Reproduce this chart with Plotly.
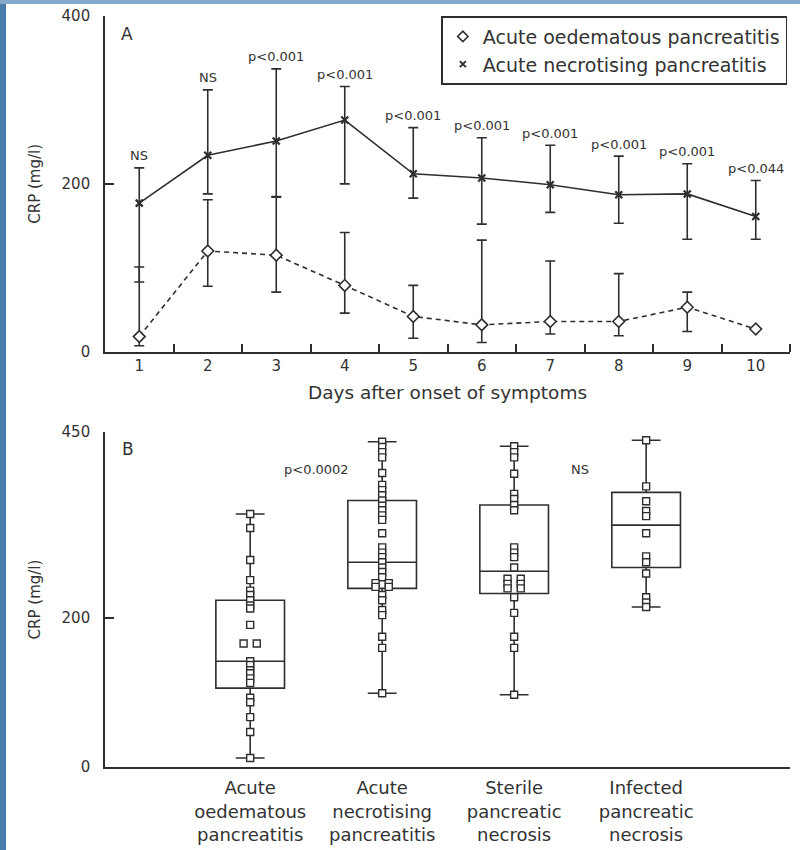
import plotly.graph_objects as go

# ---------------- Panel A data ----------------
days = [1, 2, 3, 4, 5, 6, 7, 8, 9, 10]
necro_mean = [177, 234, 251, 276, 212, 207, 199, 187, 188, 161]
necro_upper = [219, 312, 337, 316, 267, 255, 246, 233, 224, 204]
necro_lower = [83, 188, 185, 200, 183, 152, 166, 153, 134, 134]
oedem_mean = [18, 120, 115, 79, 42, 32, 36, 36, 53, 27]
oedem_upper = [101, 181, 184, 142, 79, 133, 108, 93, 71, 27]
oedem_lower = [7, 78, 71, 46, 16, 11, 21, 19, 24, 27]
p_labels = ["NS", "NS", "p<0.001", "p<0.001", "p<0.001", "p<0.001",
            "p<0.001", "p<0.001", "p<0.001", "p<0.044"]
series_names = ["Acute oedematous pancreatitis", "Acute necrotising pancreatitis"]

# ---------------- Panel B data ----------------
categories = ["Acute<br>oedematous<br>pancreatitis",
              "Acute<br>necrotising<br>pancreatitis",
              "Sterile<br>pancreatic<br>necrosis",
              "Infected<br>pancreatic<br>necrosis"]
box_low = [12, 99, 97, 215]
box_q1 = [106, 240, 233, 268]
box_median = [142, 275, 263, 325]
box_q3 = [224, 358, 352, 369]
box_high = [340, 437, 431, 439]
pts_oedem = [340, 321, 278, 251, 237, 231, 224, 217, 213, 191, 166, 166,
             142, 137, 130, 126, 119, 113, 93, 87, 67, 47, 12]
pts_necro = [437, 430, 423, 416, 395, 379, 372, 365, 358, 351, 345, 338, 332,
             314, 295, 288, 282, 275, 268, 262, 255, 247, 247, 242, 242,
             231, 224, 211, 204, 175, 160, 99]
pts_sterile = [431, 423, 416, 394, 367, 360, 352, 345, 295, 288, 282, 268,
               253, 253, 246, 246, 240, 240, 228, 207, 175, 160, 97]
pts_infected = [439, 377, 357, 344, 337, 314, 283, 275, 260, 228, 221, 215]
b_pvals = ["p<0.0002", "NS"]
b_pval_x = [0.5, 2.5]
b_pval_y = [400, 400]

INK = "#2e2e2e"
TXT = "#333333"
FONT = "DejaVu Sans"

fig = go.Figure()

# Panel A traces
fig.add_trace(go.Scatter(
    x=days, y=necro_mean, mode="lines+markers", showlegend=False,
    line=dict(color=INK, width=1.6),
    marker=dict(symbol="x-thin", size=7, line=dict(color=INK, width=2.2)),
    error_y=dict(type="data", symmetric=False,
                 array=[u - m for u, m in zip(necro_upper, necro_mean)],
                 arrayminus=[m - l for m, l in zip(necro_mean, necro_lower)],
                 color=INK, thickness=1.6, width=5),
    cliponaxis=False, xaxis="x", yaxis="y"))
fig.add_trace(go.Scatter(
    x=days, y=oedem_mean, mode="lines+markers", showlegend=False,
    line=dict(color=INK, width=1.6, dash="5px,4px"),
    marker=dict(symbol="diamond", size=9, color="white", line=dict(color=INK, width=1.6)),
    error_y=dict(type="data", symmetric=False,
                 array=[u - m for u, m in zip(oedem_upper, oedem_mean)],
                 arrayminus=[m - l for m, l in zip(oedem_mean, oedem_lower)],
                 color=INK, thickness=1.6, width=5),
    cliponaxis=False, xaxis="x", yaxis="y"))

# legend entries (markers only)
fig.add_trace(go.Scatter(x=[None], y=[None], mode="markers", name=series_names[0],
                         marker=dict(symbol="diamond-open", size=8, color=INK, line=dict(width=1.6)),
                         xaxis="x", yaxis="y"))
fig.add_trace(go.Scatter(x=[None], y=[None], mode="markers", name=series_names[1],
                         marker=dict(symbol="x-thin", size=6, line=dict(color=INK, width=2)),
                         xaxis="x", yaxis="y"))

# p-value labels panel A
for d, up, lab in zip(days, necro_upper, p_labels):
    fig.add_annotation(x=d, y=up, text=lab, showarrow=False, xref="x", yref="y",
                       yanchor="middle", yshift=12, font=dict(size=13, color=TXT, family=FONT))

# Panel B
cat_idx = list(range(len(categories)))
fig.add_trace(go.Box(
    x=cat_idx, q1=box_q1, median=box_median, q3=box_q3,
    lowerfence=box_low, upperfence=box_high,
    width=0.52, whiskerwidth=0.42, boxpoints=False,
    line=dict(color=INK, width=1.6), fillcolor="rgba(0,0,0,0)",
    showlegend=False, xaxis="x2", yaxis="y2"))

for i, pts in enumerate([pts_oedem, pts_necro, pts_sterile, pts_infected]):
    xs = []
    seen = {}
    for v in pts:
        n = pts.count(v)
        k = seen.get(v, 0)
        seen[v] = k + 1
        off = 0 if n == 1 else (-0.05 if k == 0 else 0.05)
        xs.append(i + off)
    fig.add_trace(go.Scatter(
        x=xs, y=pts, mode="markers", showlegend=False,
        marker=dict(symbol="square", size=7, color="white", line=dict(color=INK, width=1.4)),
        cliponaxis=False, xaxis="x2", yaxis="y2"))

for t, xv, yv in zip(b_pvals, b_pval_x, b_pval_y):
    fig.add_annotation(x=xv, y=yv, text=t, showarrow=False, xref="x2", yref="y2",
                       font=dict(size=13, color=TXT, family=FONT))

# panel letters
fig.add_annotation(x=0.032, y=0.946, xref="x domain", yref="y domain", text="A",
                   xanchor="center", yanchor="middle",
                   showarrow=False, font=dict(size=17, color=TXT, family=FONT))
fig.add_annotation(x=0.034, y=0.95, xref="x2 domain", yref="y2 domain", text="B",
                   xanchor="center", yanchor="middle",
                   showarrow=False, font=dict(size=17, color=TXT, family=FONT))

axis_common = dict(showline=True, linecolor=INK, linewidth=1.6, showgrid=False,
                   zeroline=False, tickcolor=INK, tickwidth=1.6, automargin=False)

fig.update_layout(
    width=800, height=850,
    margin=dict(l=105, r=10, t=16, b=83),
    paper_bgcolor="white", plot_bgcolor="white",
    font=dict(family=FONT, color=TXT),
    xaxis=dict(domain=[0, 1], anchor="y", range=[0.5, 10.5],
               tickvals=days, ticktext=[str(d) for d in days], ticks="",
               tickfont=dict(size=15, color=TXT, family=FONT),
               minor=dict(tickvals=[d + 0.5 for d in days], ticks="inside",
                          ticklen=8, tickwidth=1.6, tickcolor=INK),
               title=dict(text="Days after onset of symptoms", font=dict(size=18.5, color=TXT, family=FONT),
                          standoff=12),
               **axis_common),
    yaxis=dict(domain=[0.553, 1], anchor="x", range=[0, 400], tickvals=[0, 200, 400],
               ticks="inside", ticklen=9, ticklabelstandoff=10,
               tickfont=dict(size=15, color=TXT, family=FONT),
               title=dict(text="CRP (mg/l)", font=dict(size=15, color=TXT, family=FONT), standoff=17),
               **axis_common),
    xaxis2=dict(domain=[0, 1], anchor="y2", range=[-1.1, 4.09],
                tickvals=cat_idx, ticktext=categories, ticks="", ticklabelstandoff=4,
                tickfont=dict(size=18, color=TXT, family=FONT),
                **axis_common),
    yaxis2=dict(domain=[0, 0.446], anchor="x2", range=[0, 450], tickvals=[0, 200, 450],
                ticks="inside", ticklen=9, ticklabelstandoff=10,
                tickfont=dict(size=15, color=TXT, family=FONT),
                title=dict(text="CRP (mg/l)", font=dict(size=15, color=TXT, family=FONT), standoff=17),
                **axis_common),
    legend=dict(x=0.996, y=1.0, xanchor="right", yanchor="top",
                bordercolor=INK, borderwidth=1.6, bgcolor="white",
                font=dict(size=19, color=TXT, family=FONT),
                itemwidth=30, tracegroupgap=0),
    shapes=[
        dict(type="rect", xref="paper", yref="paper", layer="below",
             x0=-105 / 685, x1=-99 / 685, y0=-83 / 751, y1=767 / 751,
             fillcolor="#4a7cad", line=dict(width=0)),
        dict(type="rect", xref="paper", yref="paper", layer="below",
             x0=-105 / 685, x1=695 / 685, y0=763 / 751, y1=767 / 751,
             fillcolor="#86a9cb", line=dict(width=0)),
    ],
)

fig.write_html("out.html", config={"displayModeBar": False},
               post_script="document.body.style.margin='0';")
